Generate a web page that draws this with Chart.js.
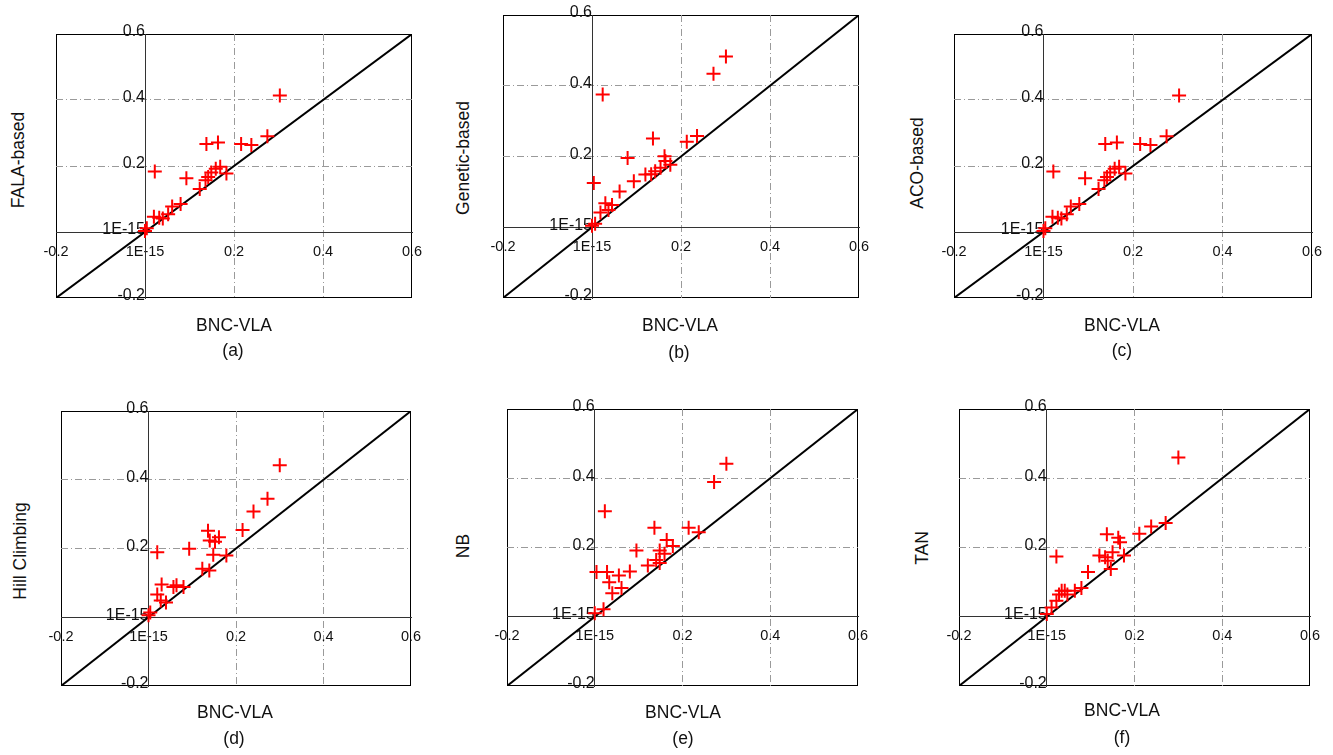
<!DOCTYPE html>
<html>
<head>
<meta charset="utf-8">
<script src="https://cdn.jsdelivr.net/npm/chart.js@4.4.1/dist/chart.umd.min.js"></script>
<style>
  html, body { margin: 0; padding: 0; background: #fff; }
  body { width: 1333px; height: 755px; position: relative; overflow: hidden;
         font-family: "Liberation Sans", Arial, sans-serif; color: #111; }
  canvas { position: absolute; }
  .lbl { position: absolute; font-size: 17.5px; white-space: nowrap; transform: translate(-50%, -50%); }
  .ylbl { position: absolute; font-size: 17.5px; white-space: nowrap; transform: translate(-50%, -50%) rotate(-90deg); }
</style>
</head>
<body>
<script>
// ---- data (x = BNC-VLA, y = compared method) ----
const tickLabels = ["-0.2", "1E-15", "0.2", "0.4", "0.6"];
const xTitle = "BNC-VLA";
const diagonal = [-0.2, 0.6];

const falaX = [0.000, 0.004, 0.020, 0.022, 0.032, 0.040, 0.052, 0.061, 0.080, 0.093, 0.123, 0.136, 0.142, 0.149, 0.159, 0.169, 0.183, 0.138, 0.164, 0.216, 0.239, 0.275, 0.303];
const falaY = [0.003, 0.011, 0.046, 0.183, 0.043, 0.041, 0.054, 0.077, 0.085, 0.163, 0.130, 0.157, 0.167, 0.180, 0.192, 0.198, 0.177, 0.267, 0.271, 0.267, 0.264, 0.290, 0.414];

const geneticX = [0.000, 0.007, 0.004, 0.019, 0.024, 0.030, 0.037, 0.045, 0.062, 0.080, 0.094, 0.120, 0.133, 0.142, 0.154, 0.165, 0.163, 0.176, 0.137, 0.213, 0.236, 0.273, 0.301];
const geneticY = [0.004, 0.010, 0.125, 0.042, 0.375, 0.068, 0.049, 0.063, 0.101, 0.196, 0.130, 0.149, 0.150, 0.158, 0.168, 0.187, 0.201, 0.177, 0.251, 0.242, 0.258, 0.434, 0.483];

const acoX = [0.000, 0.004, 0.020, 0.022, 0.032, 0.040, 0.052, 0.061, 0.080, 0.093, 0.123, 0.136, 0.142, 0.149, 0.159, 0.169, 0.183, 0.138, 0.164, 0.216, 0.239, 0.275, 0.303];
const acoY = [0.003, 0.011, 0.046, 0.183, 0.043, 0.041, 0.054, 0.077, 0.085, 0.163, 0.130, 0.157, 0.167, 0.180, 0.192, 0.198, 0.177, 0.267, 0.271, 0.267, 0.264, 0.290, 0.414];

const hillX = [0.000, 0.004, 0.020, 0.028, 0.040, 0.020, 0.030, 0.057, 0.064, 0.080, 0.093, 0.123, 0.139, 0.136, 0.140, 0.152, 0.161, 0.148, 0.178, 0.215, 0.240, 0.272, 0.300];
const hillY = [0.006, 0.014, 0.066, 0.049, 0.043, 0.189, 0.095, 0.088, 0.093, 0.088, 0.199, 0.141, 0.136, 0.252, 0.223, 0.220, 0.233, 0.182, 0.180, 0.254, 0.308, 0.345, 0.442];

const nbX = [0.000, 0.020, 0.004, 0.023, 0.028, 0.033, 0.040, 0.055, 0.061, 0.080, 0.095, 0.121, 0.136, 0.140, 0.148, 0.148, 0.159, 0.164, 0.178, 0.214, 0.237, 0.272, 0.300];
const nbY = [0.010, 0.022, 0.129, 0.305, 0.129, 0.100, 0.068, 0.119, 0.083, 0.131, 0.191, 0.148, 0.257, 0.164, 0.155, 0.191, 0.182, 0.222, 0.204, 0.257, 0.244, 0.389, 0.442];

const tanX = [0.000, 0.011, 0.022, 0.022, 0.028, 0.034, 0.041, 0.047, 0.064, 0.079, 0.094, 0.120, 0.133, 0.139, 0.150, 0.137, 0.163, 0.167, 0.146, 0.176, 0.211, 0.238, 0.271, 0.300];
const tanY = [0.008, 0.027, 0.046, 0.174, 0.064, 0.075, 0.075, 0.064, 0.075, 0.083, 0.129, 0.177, 0.172, 0.162, 0.186, 0.238, 0.228, 0.215, 0.138, 0.177, 0.240, 0.261, 0.271, 0.460];

// ---- panel layout (plot box in page pixels, title positions) ----
const panels = [
  { name: "FALA-based",    tag: "(a)", xs: falaX,    ys: falaY,    box: [56, 34, 412, 298],  yT: [18, 160],  xT: [234, 325], tT: [233, 350] },
  { name: "Genetic-based", tag: "(b)", xs: geneticX, ys: geneticY, box: [503, 15, 859, 298], yT: [463, 158], xT: [680, 325], tT: [679, 352] },
  { name: "ACO-based",     tag: "(c)", xs: acoX,     ys: acoY,     box: [954, 34, 1312, 298], yT: [917, 163], xT: [1122, 325], tT: [1122, 350] },
  { name: "Hill Climbing", tag: "(d)", xs: hillX,    ys: hillY,    box: [61, 411, 411, 686], yT: [20, 551],  xT: [235, 712], tT: [234, 738] },
  { name: "NB",            tag: "(e)", xs: nbX,      ys: nbY,      box: [507, 409, 858, 686], yT: [463, 546], xT: [683, 712], tT: [683, 738] },
  { name: "TAN",           tag: "(f)", xs: tanX,     ys: tanY,     box: [959, 409, 1310, 686], yT: [922, 548], xT: [1122, 710], tT: [1122, 737] }
];

const boxPlugin = {
  id: 'plotBox',
  beforeDraw(chart) {
    const a = chart.chartArea, c = chart.ctx;
    c.save();
    c.strokeStyle = '#000';
    c.lineWidth = 1;
    c.strokeRect(Math.round(a.left) + 0.5, Math.round(a.top) + 0.5,
                 Math.round(a.right - a.left) - 1, Math.round(a.bottom - a.top) - 1);
    c.restore();
  }
};

function gridColor(ctx) {
  const v = ctx.tick ? Math.round(ctx.tick.value * 10) / 10 : null;
  return (v === 0.2 || v === 0.4) ? '#9a9a9a' : 'rgba(0,0,0,0)';
}

const PAD = 26;
const xTickFont = { family: "'Liberation Sans', Arial, sans-serif", size: 14.5 };
const yTickFont = { family: "'Liberation Sans', Arial, sans-serif", size: 16 };

panels.forEach((p) => {
  const [L, T, R, B] = p.box;
  const cv = document.createElement('canvas');
  const w = R - L + 2 * PAD, h = B - T + 2 * PAD;
  cv.width = w; cv.height = h;
  cv.style.left = (L - PAD) + 'px';
  cv.style.top = (T - PAD) + 'px';
  cv.style.width = w + 'px';
  cv.style.height = h + 'px';
  document.body.appendChild(cv);

  const pts = p.xs.map((x, i) => ({ x: x, y: p.ys[i] }));
  const diag = diagonal.map(v => ({ x: v, y: v }));

  new Chart(cv, {
    type: 'scatter',
    data: {
      datasets: [
        { type: 'line', data: diag, borderColor: '#000', borderWidth: 2, pointRadius: 0, fill: false, order: 2 },
        { data: pts, pointStyle: 'cross', pointRadius: 7, pointHoverRadius: 7,
          borderColor: '#ff0000', backgroundColor: '#ff0000', borderWidth: 2, order: 1 }
      ]
    },
    options: {
      responsive: false,
      animation: false,
      devicePixelRatio: 1,
      events: [],
      layout: { padding: PAD },
      plugins: { legend: { display: false }, tooltip: { enabled: false } },
      scales: {
        x: {
          type: 'linear', min: -0.2, max: 0.6, position: { y: 0 },
          ticks: { stepSize: 0.2, padding: 11, color: '#111', font: xTickFont, maxRotation: 0,
                   callback: (v, i) => tickLabels[i] },
          grid: { color: gridColor, lineWidth: 1, drawTicks: false },
          border: { display: true, color: '#333', width: 1, dash: [7, 3, 1, 3] }
        },
        y: {
          type: 'linear', min: -0.2, max: 0.6, position: { x: 0 },
          ticks: { stepSize: 0.2, padding: 3, labelOffset: -2, color: '#111', font: yTickFont,
                   callback: (v, i) => tickLabels[i] },
          grid: { color: gridColor, lineWidth: 1, drawTicks: false },
          border: { display: true, color: '#333', width: 1, dash: [7, 3, 1, 3] }
        }
      }
    },
    plugins: [boxPlugin]
  });

  const yl = document.createElement('div');
  yl.className = 'ylbl'; yl.textContent = p.name;
  yl.style.left = p.yT[0] + 'px'; yl.style.top = p.yT[1] + 'px';
  document.body.appendChild(yl);

  const xl = document.createElement('div');
  xl.className = 'lbl'; xl.textContent = xTitle;
  xl.style.left = p.xT[0] + 'px'; xl.style.top = p.xT[1] + 'px';
  document.body.appendChild(xl);

  const tl = document.createElement('div');
  tl.className = 'lbl'; tl.textContent = p.tag;
  tl.style.left = p.tT[0] + 'px'; tl.style.top = p.tT[1] + 'px';
  document.body.appendChild(tl);
});
</script>
</body>
</html>
